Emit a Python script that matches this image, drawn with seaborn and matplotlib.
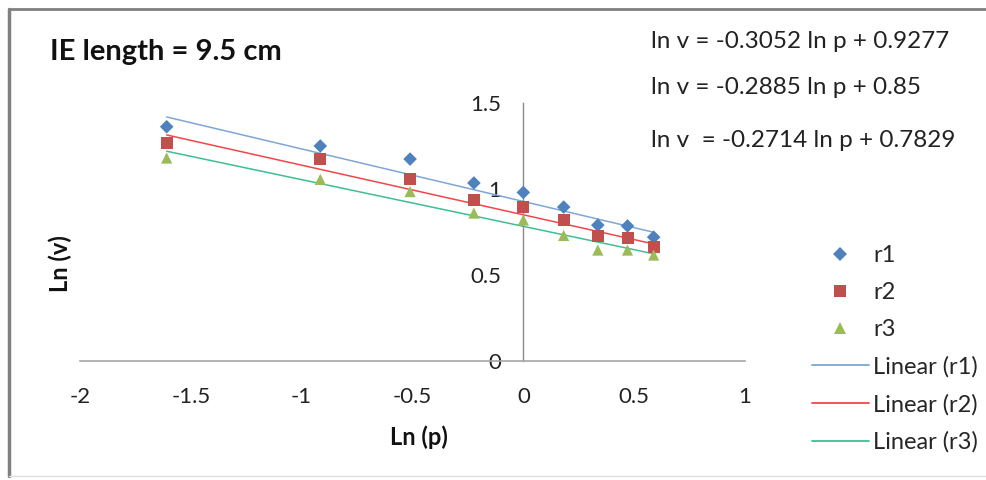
import numpy as np
import pandas as pd
import matplotlib
matplotlib.use("Agg")
import matplotlib.pyplot as plt
from matplotlib.lines import Line2D
import seaborn as sns

# ---- data ----
ln_p = [-1.609, -0.916, -0.511, -0.223, 0.0, 0.182, 0.336, 0.470, 0.588]
r1 = [1.362, 1.250, 1.174, 1.035, 0.980, 0.895, 0.790, 0.785, 0.720]
r2 = [1.265, 1.172, 1.058, 0.936, 0.897, 0.820, 0.727, 0.717, 0.663]
r3 = [1.180, 1.056, 0.985, 0.860, 0.820, 0.730, 0.645, 0.645, 0.616]
series_names = ["r1", "r2", "r3"]
slopes = [-0.3052, -0.2885, -0.2714]
intercepts = [0.9277, 0.85, 0.7829]
equations = ["ln v = -0.3052 ln p + 0.9277",
             "ln v = -0.2885 ln p + 0.85",
             "ln v  = -0.2714 ln p + 0.7829"]
x_ticks = [-2, -1.5, -1, -0.5, 0, 0.5, 1]
y_ticks = [0, 0.5, 1, 1.5]
title = "IE length = 9.5 cm"

sns.set_theme(style="white")
plt.rcParams["font.family"] = ["Lato", "DejaVu Sans"]

marker_colors = ["#4F81BD", "#C0504D", "#9BBB59"]
markers = ["D", "s", "^"]
marker_sizes = [48, 75, 65]
line_colors = ["#7FA6D6", "#F0474B", "#3DBF94"]

df = pd.DataFrame({"ln_p": ln_p * 3,
                   "ln_v": r1 + r2 + r3,
                   "series": sum([[n] * len(ln_p) for n in series_names], [])})

fig = plt.figure(figsize=(9.87, 4.80), dpi=100)
ax = fig.add_axes([80 / 987, 1 - 361 / 480, (745 - 80) / 987, (361 - 103) / 480])

# trendlines
xr = np.array([min(ln_p), max(ln_p)])
for i, name in enumerate(series_names):
    tl = pd.DataFrame({"x": xr, "y": slopes[i] * xr + intercepts[i]})
    sns.lineplot(data=tl, x="x", y="y", ax=ax, color=line_colors[i], lw=1.1, zorder=2)

# points
for i, name in enumerate(series_names):
    sub = df[df["series"] == name]
    sns.scatterplot(data=sub, x="ln_p", y="ln_v", ax=ax, marker=markers[i],
                    s=marker_sizes[i], color=marker_colors[i], edgecolor="none",
                    zorder=3, legend=False)

ax.set_xlim(-2, 1)
ax.set_ylim(0, 1.5)
ax.set_xticks(x_ticks)
ax.set_xticklabels([f"{v:g}" for v in x_ticks])
ax.set_yticks(y_ticks)
ax.set_yticklabels([f"{v:g}" for v in y_ticks])

for s in ["top", "right"]:
    ax.spines[s].set_visible(False)
ax.spines["left"].set_position(("data", 0))
ax.spines["left"].set_color("#8C8C8C")
ax.spines["bottom"].set_color("#A6A6A6")
ax.spines["left"].set_linewidth(1.0)
ax.spines["bottom"].set_linewidth(1.2)
ax.tick_params(axis="both", length=0, labelsize=16, colors="#222222")
ax.tick_params(axis="x", pad=19)
ax.tick_params(axis="y", pad=16)
ax.set_xlabel("")
ax.set_ylabel("")
ax.patch.set_alpha(0)

fig.text(419 / 987, 1 - 437 / 480, "Ln (p)", fontsize=17, fontweight="bold",
         ha="center", va="center", color="#111111")
fig.text(60 / 987, 1 - 264 / 480, "Ln (v)", fontsize=17, fontweight="bold",
         rotation=90, ha="center", va="center", color="#111111")
fig.text(50 / 987, 1 - 52 / 480, title, fontsize=21, fontweight="bold",
         ha="left", va="center", color="#111111")

for k, eq in enumerate(equations):
    fig.text(651 / 987, 1 - [42, 88, 140][k] / 480, eq, fontsize=17.5,
             ha="left", va="center", color="#222222")

handles = [Line2D([], [], linestyle="none", marker=markers[i], color=marker_colors[i],
                  markersize=[7, 8, 8][i], markeredgewidth=0) for i in range(3)]
handles += [Line2D([], [], color=line_colors[i], lw=1.3) for i in range(3)]
labels = series_names + [f"Linear ({n})" for n in series_names]
fig.legend(handles, labels, loc="upper left", bbox_to_anchor=(812 / 987, 1 - 245 / 480),
           frameon=False, fontsize=17, labelspacing=0.68, handlelength=2.4,
           handletextpad=0.2, borderaxespad=0, borderpad=0)

# chart border (left and top)
fig.add_artist(Line2D([9 / 987, 9 / 987], [1 - 9 / 480, 1 - 476 / 480],
                      transform=fig.transFigure, color="#808080", lw=2.5))
fig.add_artist(Line2D([9 / 987, 1], [1 - 9 / 480, 1 - 9 / 480],
                      transform=fig.transFigure, color="#808080", lw=2.0))
fig.add_artist(Line2D([9 / 987, 1], [1 - 476 / 480, 1 - 476 / 480],
                      transform=fig.transFigure, color="#E0E0E0", lw=1.0))

fig.savefig("out.png", dpi=100)
